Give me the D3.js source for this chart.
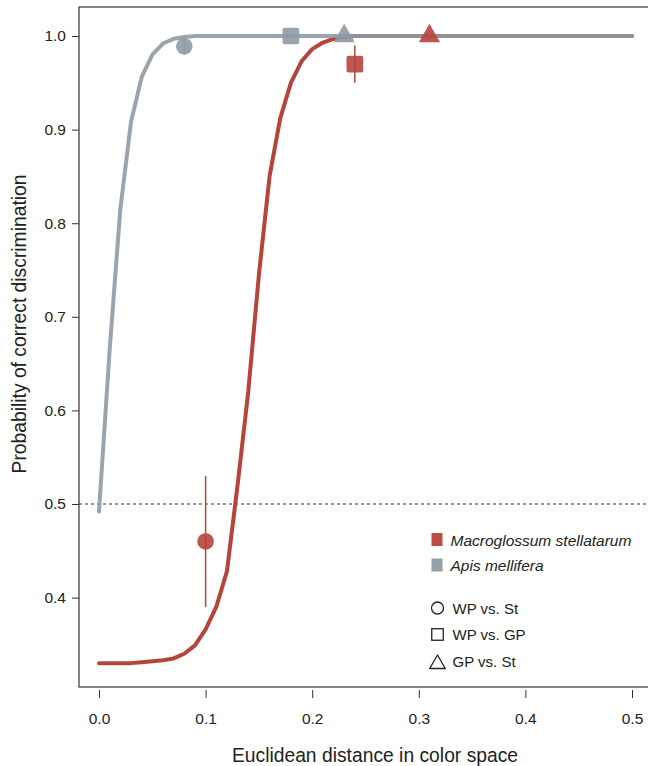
<!DOCTYPE html>
<html>
<head>
<meta charset="utf-8">
<script src="https://cdn.jsdelivr.net/npm/d3@7"></script>
<style>
  html, body { margin: 0; padding: 0; background: #fff; }
  svg { display: block; font-family: "Liberation Sans", Arial, Helvetica, sans-serif; }
</style>
</head>
<body>
<svg id="chart" width="648" height="766"></svg>
<script>
// ---- Data ----
const curveX = [0.00,0.01,0.02,0.03,0.04,0.05,0.06,0.07,0.08,0.09,
                0.10,0.11,0.12,0.13,0.14,0.15,0.16,0.17,0.18,0.19,
                0.20,0.21,0.22,0.23,0.24,0.25,0.26,0.27,0.28,0.29,
                0.30,0.31,0.32,0.33,0.34,0.35,0.36,0.37,0.38,0.39,
                0.40,0.41,0.42,0.43,0.44,0.45,0.46,0.47,0.48,0.49,0.50];
const apisCurve = [0.492,0.665,0.815,0.908,0.956,0.980,0.992,0.997,0.999,1.0,
                   1.0,1.0,1.0,1.0,1.0,1.0,1.0,1.0,1.0,1.0,
                   1.0,1.0,1.0,1.0,1.0,1.0,1.0,1.0,1.0,1.0,
                   1.0,1.0,1.0,1.0,1.0,1.0,1.0,1.0,1.0,1.0,
                   1.0,1.0,1.0,1.0,1.0,1.0,1.0,1.0,1.0,1.0,1.0];
const macroCurve = [0.330,0.330,0.330,0.330,0.331,0.332,0.333,0.335,0.340,0.349,
                    0.366,0.390,0.428,0.520,0.620,0.745,0.850,0.912,0.950,0.973,
                    0.986,0.993,0.997,0.999,1.0,1.0,1.0,1.0,1.0,1.0,
                    1.0,1.0,1.0,1.0,1.0,1.0,1.0,1.0,1.0,1.0,
                    1.0,1.0,1.0,1.0,1.0,1.0,1.0,1.0,1.0,1.0,1.0];

const comparisons = ["WP vs. St", "WP vs. GP", "GP vs. St"];
const shapes = ["circle", "square", "triangle"];
const apisX = [0.08, 0.18, 0.23];
const apisY = [0.989, 1.0, 1.0];
const apisLo = [0.98, null, null];
const apisHi = [1.0, null, null];
const macroX = [0.10, 0.24, 0.31];
const macroY = [0.46, 0.970, 1.0];
const macroLo = [0.39, 0.950, null];
const macroHi = [0.53, 0.990, null];

const species = ["Macroglossum stellatarum", "Apis mellifera"];
const xTicks = [0.0, 0.1, 0.2, 0.3, 0.4, 0.5];
const yTicks = [0.4, 0.5, 0.6, 0.7, 0.8, 0.9, 1.0];
const chanceLevel = 0.5;

// ---- Styles ----
const RED = "#b5443b";
const GRAY = "#8e9aa4";
const colors = [RED, GRAY];

const svg = d3.select("#chart");
const box = {left: 79, right: 652, top: 7, bottom: 687};

const x = d3.scaleLinear().domain([0, 0.5]).range([99, 632]);
const y = d3.scaleLinear().domain([0.3045, 1.031]).range([687, 7]);

// Box
svg.append("rect")
  .attr("x", box.left).attr("y", box.top)
  .attr("width", box.right - box.left).attr("height", box.bottom - box.top)
  .attr("fill", "none").attr("stroke", "#333").attr("stroke-width", 1.2);

// Y axis
const yAxis = d3.axisLeft(y).tickValues(yTicks).tickFormat(d3.format(".1f")).tickSize(7).tickPadding(6);
const gy = svg.append("g").attr("transform", `translate(${box.left},0)`).call(yAxis);
gy.select(".domain").remove();
gy.selectAll("line").attr("stroke", "#333");
gy.selectAll("text").attr("font-size", 15.5).attr("fill", "#222")
  .attr("font-family", "'Liberation Sans', Arial, sans-serif");

// X axis
const xAxis = d3.axisBottom(x).tickValues(xTicks).tickFormat(d3.format(".1f")).tickSize(8).tickPadding(15);
const gx = svg.append("g").attr("transform", `translate(0,${box.bottom + 3})`).call(xAxis);
gx.select(".domain").remove();
gx.selectAll("line").attr("stroke", "#333");
gx.selectAll("text").attr("font-size", 15.5).attr("fill", "#222")
  .attr("font-family", "'Liberation Sans', Arial, sans-serif");

// Axis titles
svg.append("text")
  .attr("x", 375).attr("y", 762)
  .attr("text-anchor", "middle").attr("font-size", 19.3).attr("fill", "#222")
  .text("Euclidean distance in color space");
svg.append("text")
  .attr("transform", "translate(26,324) rotate(-90)")
  .attr("text-anchor", "middle").attr("font-size", 19.3).attr("fill", "#222")
  .text("Probability of correct discrimination");

// Chance line
svg.append("line")
  .attr("x1", box.left).attr("x2", box.right)
  .attr("y1", y(chanceLevel)).attr("y2", y(chanceLevel))
  .attr("stroke", "#333").attr("stroke-width", 1).attr("stroke-dasharray", "3,3");

// Curves
const line = d3.line().x(d => x(d[0])).y(d => y(d[1]));
svg.append("path")
  .datum(curveX.map((v, i) => [v, macroCurve[i]]))
  .attr("d", line).attr("fill", "none").attr("stroke", RED)
  .attr("stroke-width", 4).attr("stroke-linecap", "round").attr("stroke-linejoin", "round");
svg.append("path")
  .datum(curveX.map((v, i) => [v, apisCurve[i]]))
  .attr("d", line).attr("fill", "none").attr("stroke", GRAY).attr("stroke-opacity", 0.9)
  .attr("stroke-width", 4).attr("stroke-linecap", "round").attr("stroke-linejoin", "round");

// Markers
function drawMarker(g, shape, cx, cy, color, opts) {
  const o = opts || {};
  if (shape === "circle") {
    g.append("circle").attr("cx", cx).attr("cy", cy).attr("r", o.r || 8.3)
      .attr("fill", o.fill || color).attr("fill-opacity", o.fo == null ? 0.9 : o.fo)
      .attr("stroke", o.stroke || "none").attr("stroke-width", o.sw || 0);
  } else if (shape === "square") {
    const s = o.s || 16.7;
    g.append("rect").attr("x", cx - s / 2).attr("y", cy - s / 2).attr("width", s).attr("height", s)
      .attr("rx", o.rx == null ? 2 : o.rx)
      .attr("fill", o.fill || color).attr("fill-opacity", o.fo == null ? 0.9 : o.fo)
      .attr("stroke", o.stroke || "none").attr("stroke-width", o.sw || 0);
  } else {
    g.append("path").attr("transform", `translate(${cx},${cy})`)
      .attr("d", d3.symbol().type(d3.symbolTriangle).size(o.area || 195)())
      .attr("fill", o.fill || color).attr("fill-opacity", o.fo == null ? 0.9 : o.fo)
      .attr("stroke", o.stroke || "none").attr("stroke-width", o.sw || 0)
      .attr("stroke-linejoin", "round");
  }
}

const pts = svg.append("g");
function drawSeries(xs, ys, lo, hi, color) {
  xs.forEach((xv, i) => {
    drawMarker(pts, shapes[i], x(xv), y(ys[i]), color);
    if (lo[i] != null) {
      pts.append("line").attr("x1", x(xv)).attr("x2", x(xv))
        .attr("y1", y(lo[i])).attr("y2", y(hi[i]))
        .attr("stroke", color).attr("stroke-width", 1.5);
    }
  });
}
drawSeries(apisX, apisY, apisLo, apisHi, GRAY);
drawSeries(macroX, macroY, macroLo, macroHi, RED);

// Legend
const lg = svg.append("g");
species.forEach((name, i) => {
  const cy = 539.5 + i * 25.5;
  lg.append("rect").attr("x", 431.5).attr("y", cy - 6.5).attr("width", 11).attr("height", 13)
    .attr("fill", colors[i]).attr("fill-opacity", 0.95);
  lg.append("text").attr("x", 450.5).attr("y", cy + 6)
    .attr("font-size", 15.5).attr("font-style", "italic").attr("fill", "#222").text(name);
});
comparisons.forEach((name, i) => {
  const cy = 608 + i * 26.5;
  drawMarker(lg, shapes[i], 437.5, cy + (shapes[i] === "triangle" ? 3 : 0), "#222",
    {fill: "none", fo: 0, stroke: "#222", sw: 1.3, r: 6, s: 11.5, rx: 0, area: 105});
  lg.append("text").attr("x", 452.5).attr("y", cy + 5.5)
    .attr("font-size", 15).attr("font-style", "normal").attr("fill", "#222").text(name);
});
</script>
</body>
</html>
